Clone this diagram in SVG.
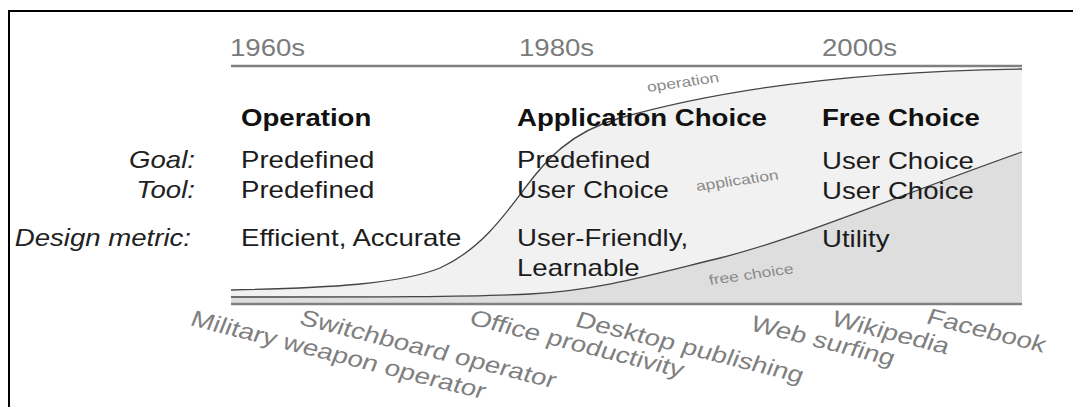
<svg xmlns="http://www.w3.org/2000/svg" width="1073" height="407" viewBox="0 0 1073 407">
  <style>
    text { font-family: "Liberation Sans", Arial, Helvetica, sans-serif; }
    .dec { font-size: 23px; fill: #7b7b7b; }
    .hd { font-size: 23px; font-weight: bold; fill: #111; }
    .bd { font-size: 23px; fill: #1c1c1c; }
    .rl { font-size: 23px; font-style: italic; fill: #222; text-anchor: end; }
    .sm { font-size: 14px; fill: #8a8a8a; }
    .ex { font-size: 22.5px; fill: #7f7f7f; }
    .axis { stroke: #808080; stroke-width: 2.5; fill: none; }
    .curve { stroke: #444; stroke-width: 1.3; fill: none; }
  </style>

  <rect x="0" y="0" width="1073" height="407" fill="#fff"/>
  <path id="frame" d="M9,407 V11 H1073" fill="none" stroke="#000" stroke-width="2"/>

  <g id="chart">
    <path id="area-application" fill="#f1f1f1" d="M231,290 C330,288 400,284 440,268 C480,250 505,215 525,188 C545,161 570,132 620,118 C680,101 800,72 1022,69 L1022,304 L231,304 Z"/>
    <path id="area-free" fill="#dedede" d="M231,297 C380,297 470,297 530,294 C600,290 650,275 720,258 C800,238 900,195 1022,152 L1022,304 L231,304 Z"/>
    <line class="axis" x1="231" y1="66" x2="1022" y2="66"/>
    <line class="axis" x1="231" y1="304" x2="1022" y2="304"/>
  </g>

  <g id="connectors">
    <path id="curve-operation" class="curve" d="M231,290 C330,288 400,284 440,268 C480,250 505,215 525,188 C545,161 570,132 620,118 C680,101 800,72 1022,69"/>
    <path id="curve-free" class="curve" d="M231,297 C380,297 470,297 530,294 C600,290 650,275 720,258 C800,238 900,195 1022,152"/>
  </g>

  <g id="area-labels">
    <text class="sm" transform="translate(648 92) scale(1.25 1) rotate(-10)">operation</text>
    <text class="sm" transform="translate(697 191) scale(1.25 1) rotate(-10)">application</text>
    <text class="sm" transform="translate(710 285) scale(1.25 1) rotate(-10)">free choice</text>
  </g>

  <g id="decades">
    <text class="dec" transform="translate(230 56) scale(1.2 1)">1960s</text>
    <text class="dec" transform="translate(519 56) scale(1.2 1)">1980s</text>
    <text class="dec" transform="translate(822 56) scale(1.2 1)">2000s</text>
  </g>

  <g id="row-labels">
    <text class="rl" transform="translate(195 168) scale(1.2 1)">Goal:</text>
    <text class="rl" transform="translate(195 198) scale(1.2 1)">Tool:</text>
    <text class="rl" transform="translate(191 246) scale(1.2 1)">Design metric:</text>
  </g>

  <g id="col-operation">
    <text class="hd" transform="translate(241 126) scale(1.2 1)">Operation</text>
    <text class="bd" transform="translate(241 168) scale(1.2 1)">Predefined</text>
    <text class="bd" transform="translate(241 198) scale(1.2 1)">Predefined</text>
    <text class="bd" transform="translate(241 246) scale(1.2 1)">Efficient, Accurate</text>
  </g>

  <g id="col-application">
    <text class="hd" transform="translate(517 126) scale(1.2 1)">Application Choice</text>
    <text class="bd" transform="translate(517 168) scale(1.2 1)">Predefined</text>
    <text class="bd" transform="translate(517 198) scale(1.2 1)">User Choice</text>
    <text class="bd" transform="translate(517 246) scale(1.2 1)">User-Friendly,</text>
    <text class="bd" transform="translate(517 276) scale(1.2 1)">Learnable</text>
  </g>

  <g id="col-free">
    <text class="hd" transform="translate(822 126) scale(1.2 1)">Free Choice</text>
    <text class="bd" transform="translate(822 169) scale(1.2 1)">User Choice</text>
    <text class="bd" transform="translate(822 199) scale(1.2 1)">User Choice</text>
    <text class="bd" transform="translate(822 247) scale(1.2 1)">Utility</text>
  </g>

  <g id="examples">
    <text class="ex" transform="translate(189 325) scale(1.25 1) rotate(17.5)">Military weapon operator</text>
    <text class="ex" transform="translate(298 324) scale(1.25 1) rotate(17.5)">Switchboard operator</text>
    <text class="ex" transform="translate(468 324) scale(1.25 1) rotate(17.5)">Office productivity</text>
    <text class="ex" transform="translate(574 326) scale(1.25 1) rotate(17.5)">Desktop publishing</text>
    <text class="ex" transform="translate(749 330) scale(1.25 1) rotate(17.5)">Web surfing</text>
    <text class="ex" transform="translate(830 325) scale(1.25 1) rotate(17.5)">Wikipedia</text>
    <text class="ex" transform="translate(925 323) scale(1.25 1) rotate(17.5)">Facebook</text>
  </g>
</svg>
